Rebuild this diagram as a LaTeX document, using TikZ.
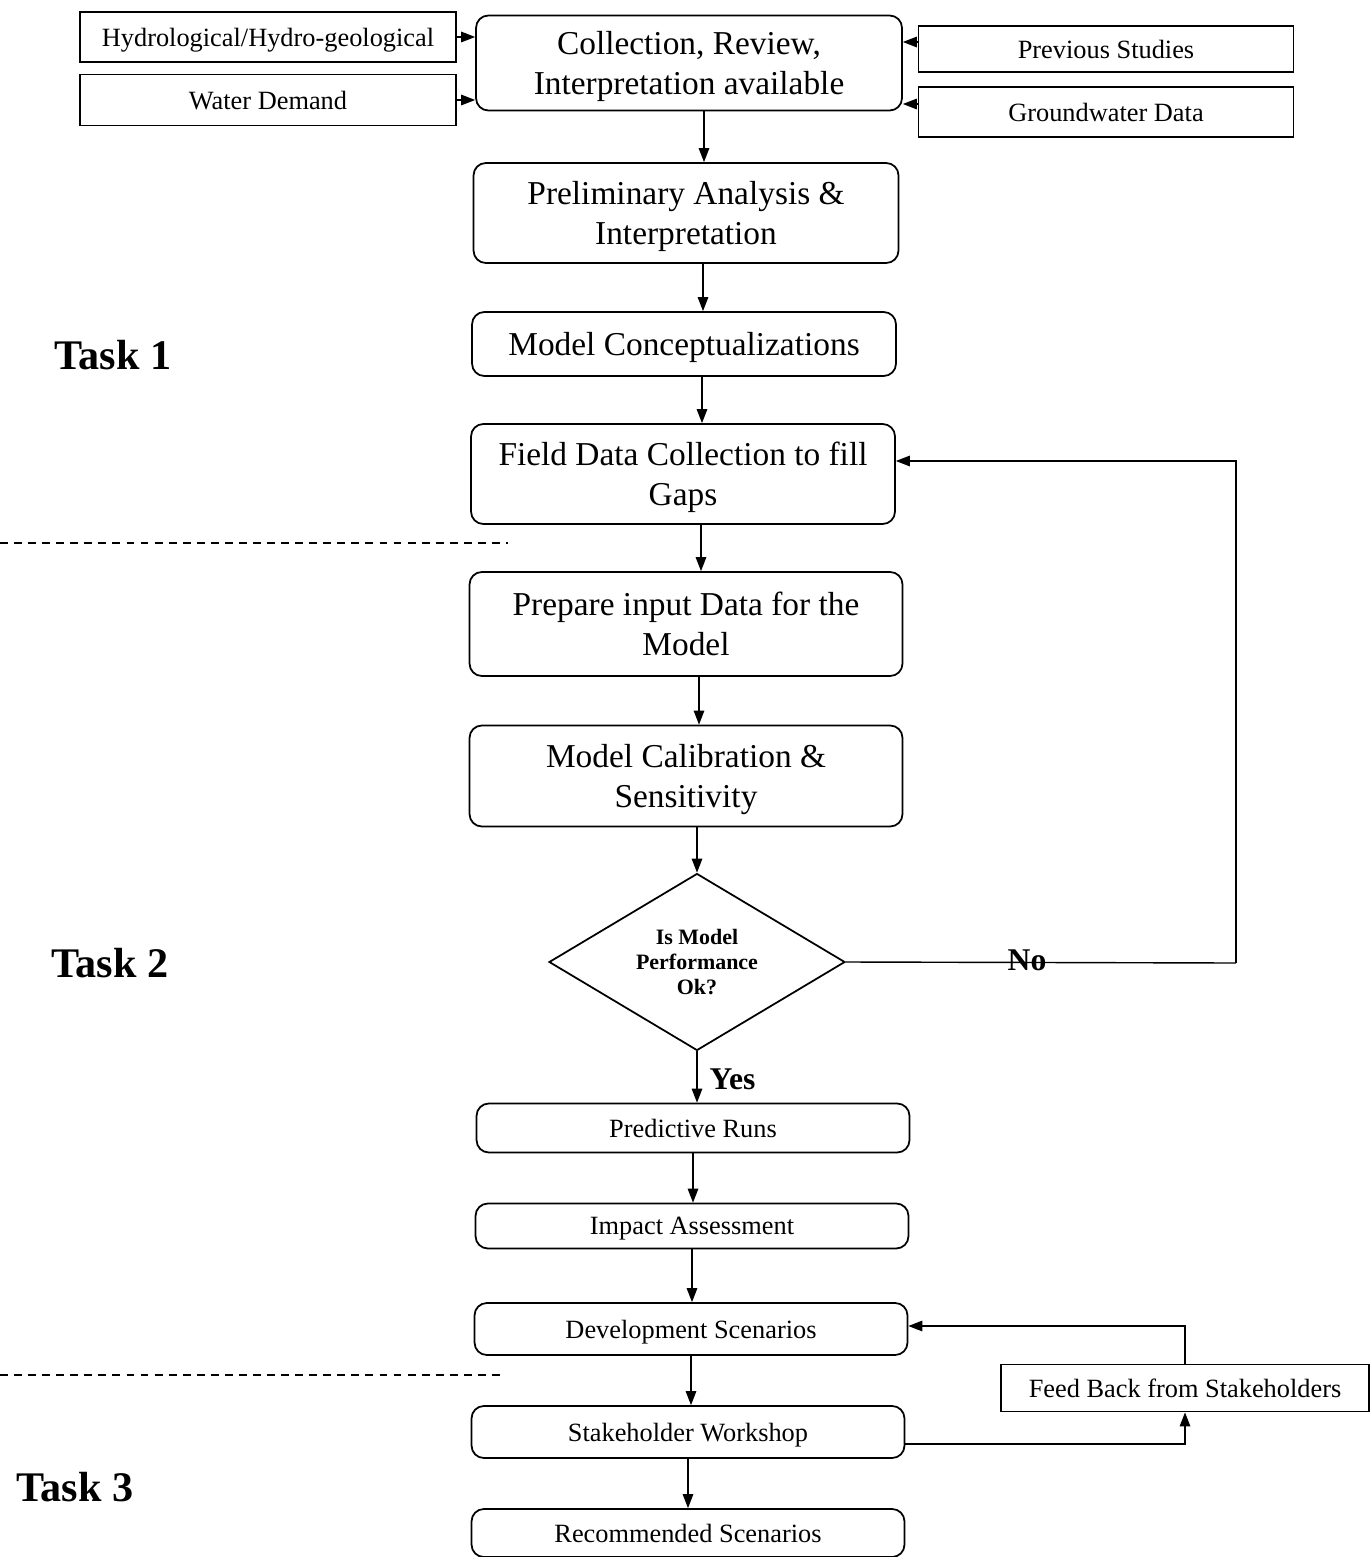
\documentclass[tikz,border=0pt]{standalone}
\usepackage{fontspec}
\setmainfont{Liberation Serif}
\usetikzlibrary{shapes.geometric,arrows.meta}

\begin{document}
\begin{tikzpicture}[x=0.02cm, y=-0.02cm, line width=1pt,
  sbox/.style={draw, align=center, inner sep=0pt, text depth=0pt, font=\fontsize{15}{18}\selectfont},
  rbox/.style={sbox, rounded corners=7pt},
  bbox/.style={rbox, text depth=-3.5pt, font=\fontsize{19}{22.5}\selectfont},
  arr/.style={line width=0.8pt, -{Triangle[length=8pt, width=6pt]}},
  task/.style={font=\fontsize{24}{28}\selectfont\bfseries},
  lbl/.style={font=\fontsize{18}{21}\selectfont\bfseries}]
  \useasboundingbox (0,0) rectangle (1371,1557);
  \node [sbox, minimum width=7.52cm, minimum height=1.0cm] (hydro) at (268,37) {Hydrological/Hydro-geological};
  \node [sbox, minimum width=7.52cm, minimum height=1.02cm] (water) at (268,100) {Water Demand};
  \node [sbox, minimum width=7.5cm, minimum height=0.92cm] (prev) at (1106,49) {Previous Studies};
  \node [sbox, minimum width=7.5cm, minimum height=1.0cm] (gw) at (1106,112) {Groundwater Data};
  \node [bbox, minimum width=8.52cm, minimum height=1.9cm] (collect) at (689,63) {Collection, Review,\\Interpretation available};
  \node [bbox, minimum width=8.5cm, minimum height=2.0cm] (prelim) at (686,213) {Preliminary Analysis \&\\Interpretation};
  \node [bbox, minimum width=8.48cm, minimum height=1.28cm] (concept) at (684,344) {Model Conceptualizations};
  \node [bbox, minimum width=8.48cm, minimum height=2.0cm] (field) at (683,474) {Field Data Collection to fill\\Gaps};
  \node [bbox, minimum width=8.66cm, minimum height=2.08cm] (prepare) at (686,624) {Prepare input Data for the\\Model};
  \node [bbox, minimum width=8.66cm, minimum height=2.02cm] (calib) at (686,776) {Model Calibration \&\\Sensitivity};
  \node [draw, diamond, aspect=1.67, inner sep=0pt, minimum width=5.92cm, minimum height=3.54cm, align=center,
    font=\fontsize{12.5}{14}\selectfont\bfseries] (perf) at (697,962) {Is Model\\Performance\\Ok?};
  \node [rbox, minimum width=8.66cm, minimum height=0.98cm] (predict) at (693,1128) {Predictive Runs};
  \node [rbox, minimum width=8.66cm, minimum height=0.9cm] (impact) at (692,1226) {Impact Assessment};
  \node [rbox, minimum width=8.66cm, minimum height=1.04cm] (devel) at (691,1329) {Development Scenarios};
  \node [rbox, minimum width=8.66cm, minimum height=1.04cm] (workshop) at (688,1432) {Stakeholder Workshop};
  \node [rbox, minimum width=8.66cm, minimum height=0.96cm] (recomm) at (688,1533) {Recommended Scenarios};
  \node [sbox, minimum width=7.36cm, minimum height=0.94cm] (feedback) at (1185,1388) {Feed Back from Stakeholders};
  \node [task] (task1) at (113,355) {Task 1};
  \node [task] (task2) at (110,963) {Task 2};
  \node [task] (task3) at (75,1487) {Task 3};
  \draw [line width=0.6pt, dash pattern=on 4.5pt off 3.5pt] (0,543) -- (508,543);
  \draw [line width=0.6pt, dash pattern=on 4.5pt off 3.5pt] (0,1375) -- (500,1375);
  \draw [arr] (hydro.east) -- (hydro.east -| collect.west);
  \draw [arr] (water.east) -- (water.east -| collect.west);
  \draw [arr] ([yshift=0.14cm]prev.west) -- ([yshift=0.14cm]prev.west -| collect.east);
  \draw [arr] ([yshift=0.16cm]gw.west) -- ([yshift=0.16cm]gw.west -| collect.east);
  \draw [arr] ([xshift=0.3cm]collect.south) -- ([xshift=0.3cm]collect.south |- prelim.north);
  \draw [arr] ([xshift=0.34cm]prelim.south) -- ([xshift=0.34cm]prelim.south |- concept.north);
  \draw [arr] ([xshift=0.36cm]concept.south) -- ([xshift=0.36cm]concept.south |- field.north);
  \draw [arr] ([xshift=0.36cm]field.south) -- ([xshift=0.36cm]field.south |- prepare.north);
  \draw [arr] ([xshift=0.26cm]prepare.south) -- ([xshift=0.26cm]prepare.south |- calib.north);
  \draw [arr] (perf.north |- calib.south) -- (perf.north);
  \draw [arr] (perf.south) -- (perf.south |- predict.north);
  \node [lbl, anchor=west] (yes) at (703,1079) {Yes};
  \coordinate (noturn) at (1236,963);
  \draw [line width=0.8pt] (perf.east) -- (noturn);
  \draw [arr] (noturn) |- ([yshift=0.26cm]field.east);
  \node [lbl] (no) at (1027,960) {No};
  \draw [arr] (predict.south) -- (predict.south |- impact.north);
  \draw [arr] (impact.south) -- (impact.south |- devel.north);
  \draw [arr] (devel.south) -- (devel.south |- workshop.north);
  \draw [arr] (workshop.south) -- (workshop.south |- recomm.north);
  \draw [arr] ([yshift=-0.24cm]workshop.east) -| (feedback.south);
  \draw [arr] (feedback.north) |- ([yshift=0.06cm]devel.east);
\end{tikzpicture}
\end{document}
